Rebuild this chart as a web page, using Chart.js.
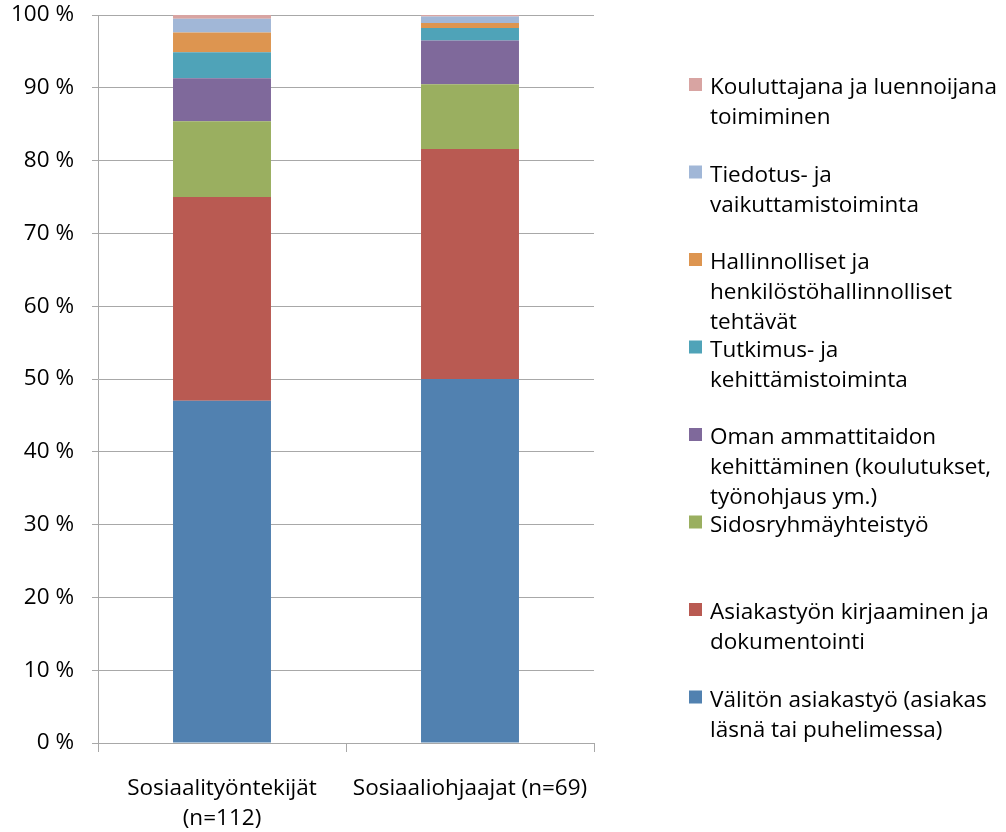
<!DOCTYPE html>
<html>
<head>
<meta charset="utf-8">
<script src="https://cdn.jsdelivr.net/npm/chart.js@4.4.0/dist/chart.umd.min.js"></script>
<style>
  html, body { margin: 0; padding: 0; background: #fff; }
  #wrap { width: 1006px; height: 832px; position: relative; }
</style>
</head>
<body>
<div id="wrap"><canvas id="barChart"></canvas></div>
<script>
const groups = [['Sosiaalityöntekijät', '(n=112)'], 'Sosiaaliohjaajat (n=69)'];

// series, bottom to top of the stack
const seriesNames = [
  ['Välitön asiakastyö (asiakas', 'läsnä tai puhelimessa)'],
  ['Asiakastyön kirjaaminen ja', 'dokumentointi'],
  ['Sidosryhmäyhteistyö'],
  ['Oman ammattitaidon', 'kehittäminen (koulutukset,', 'työnohjaus ym.)'],
  ['Tutkimus- ja', 'kehittämistoiminta'],
  ['Hallinnolliset ja', 'henkilöstöhallinnolliset', 'tehtävät'],
  ['Tiedotus- ja', 'vaikuttamistoiminta'],
  ['Kouluttajana ja luennoijana', 'toimiminen']
];
const valitonAsiakastyo = [47.0, 50.0];
const kirjaaminen = [28.0, 31.6];
const sidosryhma = [10.4, 8.9];
const ammattitaito = [5.9, 6.0];
const tutkimus = [3.6, 1.7];
const hallinto = [2.7, 0.7];
const tiedotus = [1.9, 0.9];
const kouluttajana = [0.5, 0.2];

const seriesData = [valitonAsiakastyo, kirjaaminen, sidosryhma, ammattitaito,
  tutkimus, hallinto, tiedotus, kouluttajana];
const seriesColors = ['#5181b0', '#b95a52', '#9aaf60', '#7f699b',
  '#4fa3b8', '#dd9550', '#a1b7d7', '#d8a4a2'];

const fontFamily = '"Open Sans", Lato, sans-serif';
const fontSize = 22.5;
const gridColor = '#a8a8a8';

// legend drawn on the right, top entry = top of stack
const sideLegend = {
  id: 'sideLegend',
  afterDraw(chart) {
    const ctx = chart.ctx;
    ctx.save();
    ctx.font = fontSize + 'px ' + fontFamily;
    ctx.textBaseline = 'middle';
    ctx.fillStyle = '#000';
    const n = chart.data.datasets.length;
    for (let i = 0; i < n; i++) {
      const ds = chart.data.datasets[n - 1 - i];
      const cy = 85 + i * 87.5;
      ctx.fillStyle = ds.backgroundColor;
      ctx.fillRect(689, cy - 7, 13, 13);
      ctx.fillStyle = '#000';
      ds.label.forEach((line, j) => {
        ctx.fillText(line, 710, cy + 3 + j * 30);
      });
    }
    ctx.restore();
  }
};

new Chart(document.getElementById('barChart'), {
  type: 'bar',
  data: {
    labels: groups,
    datasets: seriesData.map((d, i) => ({
      label: seriesNames[i],
      data: d,
      backgroundColor: seriesColors[i],
      borderWidth: 0,
      barPercentage: 0.395,
      categoryPercentage: 1
    }))
  },
  options: {
    responsive: true,
    maintainAspectRatio: false,
    animation: false,
    layout: { padding: { top: 15, right: 412, left: 0, bottom: 0 } },
    plugins: {
      legend: { display: false },
      tooltip: { enabled: false }
    },
    scales: {
      x: {
        stacked: true,
        grid: {
          offset: true,
          drawOnChartArea: false,
          tickLength: 9,
          color: gridColor
        },
        border: { color: gridColor },
        ticks: {
          color: '#000',
          padding: 21,
          maxRotation: 0,
          font: { family: fontFamily, size: fontSize, lineHeight: 1.35 }
        },
        afterFit(scale) {
          scale.height = 89;
          scale.paddingLeft = 0;
          scale.paddingRight = 0;
        }
      },
      y: {
        stacked: true,
        min: 0,
        max: 100,
        grid: { color: gridColor, tickLength: 6 },
        border: { color: gridColor },
        ticks: {
          stepSize: 10,
          color: '#000',
          padding: 18,
          font: { family: fontFamily, size: fontSize },
          callback: v => v + ' %'
        },
        afterFit(scale) {
          scale.width = 98;
          scale.paddingTop = 0;
          scale.paddingBottom = 0;
        }
      }
    }
  },
  plugins: [sideLegend]
});
</script>
</body>
</html>
